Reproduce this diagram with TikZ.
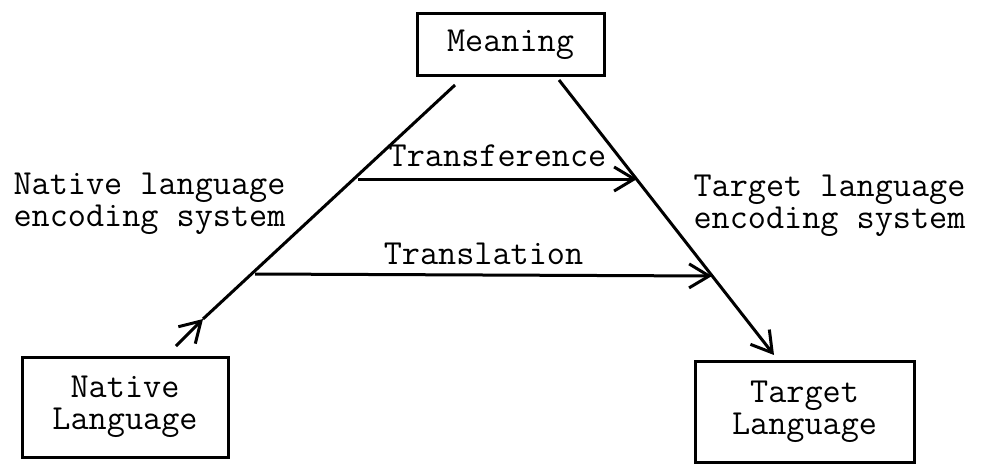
\documentclass[tikz,border=0pt]{standalone}
\usepackage{fontspec}
\usetikzlibrary{positioning,arrows.meta}

\begin{document}
\begin{tikzpicture}[x=0.5pt,y=-0.5pt,line width=1.5pt,
  typed/.style={font=\ttfamily\fontsize{17.6}{16}\selectfont},
  box/.style={draw,typed,align=center,inner sep=0pt},
  note/.style={typed,align=left,inner sep=0pt,anchor=west},
  barb/.style={-{Straight Barb[length=10pt,width=12pt,line width=1.5pt]}}]
\useasboundingbox (0,0) rectangle (988,465);
\node[box,minimum width=93.5pt,minimum height=31pt] (mean) at (510.5,45) {Meaning};
\node[box,minimum width=103pt,minimum height=50pt] (native) at (125,407) {Native\\Language};
\node[box,minimum width=109.5pt,minimum height=50.5pt] (target) at (804.5,411.5) {Target\\Language};
\node[note] (nenc) at (12,204) {Native language\\encoding system};
\node[note] (tenc) at (692,206) {Target language\\encoding system};
% ends of the two sides
\coordinate (ntail) at (176,346);
\coordinate (ntip) at (203,319);
\coordinate (ntop) at (455,85);
\coordinate (ttop) at (559,80);
\coordinate (ttip) at (774,355);
\draw[barb] (ntail) -- (ntip);
\draw (ntip) -- (ntop);
\draw[barb] (ttop) -- (ttip);
% the two crossings
\coordinate (tfa) at (358,179);
\coordinate (tfb) at (637,179);
\coordinate (tla) at (255,274);
\coordinate (tlb) at (712,276);
\draw[barb] (tfa) -- node[typed,above=2pt] (tfl) {Transference} (tfb);
\draw[barb] (tla) -- node[typed,above=1pt] (tll) {Translation} (tlb);
\end{tikzpicture}
\end{document}
